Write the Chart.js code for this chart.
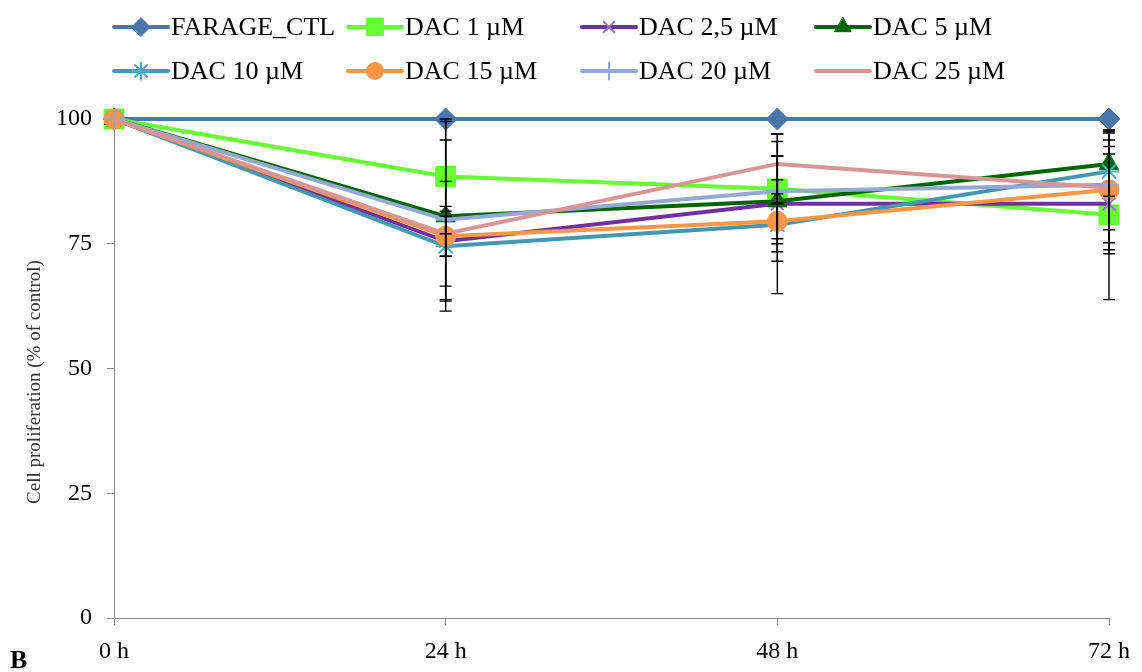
<!DOCTYPE html>
<html>
<head>
<meta charset="utf-8">
<script src="https://cdn.jsdelivr.net/npm/chart.js@4/dist/chart.umd.min.js"></script>
<style>
  body { margin: 0; background: #fff; }
  #wrap { width: 1142px; height: 672px; }
</style>
</head>
<body>
<div id="wrap"><canvas id="my-chart" width="1142" height="672"></canvas></div>
<script>
// time points
var hours = ['0 h', '24 h', '48 h', '72 h'];
var seriesNames = ['FARAGE_CTL', 'DAC 1 \u00b5M', 'DAC 2,5 \u00b5M', 'DAC 5 \u00b5M',
                   'DAC 10 \u00b5M', 'DAC 15 \u00b5M', 'DAC 20 \u00b5M', 'DAC 25 \u00b5M'];

// cell proliferation (% of control)
var farageCtl = [100, 100, 100, 100];
var dac1  = [100, 88.5, 86, 80.8];
var dac25 = [100, 75.5, 83, 83];
var dac5  = [100, 80.5, 83.5, 91];
var dac10 = [100, 74.5, 78.8, 89.5];
var dac15 = [100, 76.5, 79.5, 85.8];
var dac20 = [100, 79.8, 85.5, 86.8];
var dac25b = [100, 77, 91, 86.2];

// error (+/-)
var farageCtlErr = [0, 0, 0, 0];
var dac1Err  = [0, 11.5, 11, 17];
var dac25Err = [0, 12, 9.6, 10];
var dac5Err  = [0, 19, 12, 6.5];
var dac10Err = [0, 8, 13.8, 5];
var dac15Err = [0, 4, 3.5, 12];
var dac20Err = [0, 16, 2.3, 9];
var dac25bErr = [0, 4.5, 6, 11];

var yTicks = [0, 25, 50, 75, 100];

var values = [farageCtl, dac1, dac25, dac5, dac10, dac15, dac20, dac25b];
var errors = [farageCtlErr, dac1Err, dac25Err, dac5Err, dac10Err, dac15Err, dac20Err, dac25bErr];
var lineColors = ['#4A76AC', '#66FF33', '#7030A0', '#006400', '#4198AF', '#F79646', '#93A9D2', '#D89594'];
var markColors = ['#4A76AC', '#66FF33', '#9A6FCC', '#006400', '#4BACC6', '#F79646', '#93A9D2', '#D89594'];
var markers = ['rectRot', 'rect', 'crossRot', 'triangle', 'star', 'circle', 'cross', false];
var markSize = [11, 14, 9, 11, 10, 10, 10, 0];

var datasets = values.map(function (v, i) {
    return {
        label: seriesNames[i],
        data: v,
        errors: errors[i],
        borderColor: lineColors[i],
        backgroundColor: lineColors[i],
        borderWidth: 4,
        pointStyle: markers[i],
        pointRadius: markSize[i],
        pointHoverRadius: markSize[i],
        pointBackgroundColor: markColors[i],
        pointBorderColor: markColors[i],
        pointBorderWidth: (markers[i] == 'crossRot' || markers[i] == 'star' || markers[i] == 'cross') ? 2 : 1,
        tension: 0,
        clip: false,
        order: -i
    };
});

var errorBars = {
    id: 'errorBars',
    afterDatasetsDraw: function (chart) {
        var ctx = chart.ctx;
        var y = chart.scales.y;
        ctx.save();
        ctx.strokeStyle = '#000';
        ctx.lineWidth = 1.4;
        chart.data.datasets.forEach(function (ds, di) {
            var meta = chart.getDatasetMeta(di);
            ds.data.forEach(function (val, i) {
                var e = ds.errors[i];
                if (!e) return;
                var x = meta.data[i].x;
                var top = y.getPixelForValue(val + e);
                var bot = y.getPixelForValue(val - e);
                ctx.beginPath();
                ctx.moveTo(x, top); ctx.lineTo(x, bot);
                ctx.moveTo(x - 6, top); ctx.lineTo(x + 6, top);
                ctx.moveTo(x - 6, bot); ctx.lineTo(x + 6, bot);
                ctx.stroke();
            });
        });
        ctx.restore();
    }
};

var extras = {
    id: 'extras',
    afterDraw: function (chart) {
        var ctx = chart.ctx;
        ctx.save();
        // legend, 4 columns x 2 rows
        ctx.font = '26px "Liberation Serif"';
        ctx.textBaseline = 'middle';
        ctx.fillStyle = '#000';
        chart.data.datasets.forEach(function (ds, i) {
            var col = i % 4, row = Math.floor(i / 4);
            var x = 114 + col * 234;
            var yy = 27 + row * 44;
            ctx.strokeStyle = ds.borderColor;
            ctx.lineWidth = 4;
            ctx.lineCap = 'round';
            ctx.beginPath(); ctx.moveTo(x, yy); ctx.lineTo(x + 54, yy); ctx.stroke();
            if (ds.pointStyle && Chart.helpers && Chart.helpers.drawPoint) {
                ctx.fillStyle = ds.pointBackgroundColor;
                ctx.strokeStyle = ds.pointBorderColor;
                ctx.lineWidth = ds.pointBorderWidth;
                Chart.helpers.drawPoint(ctx, {
                    pointStyle: ds.pointStyle, rotation: 0,
                    radius: ds.pointRadius * 0.85, borderWidth: ds.pointBorderWidth
                }, x + 27, yy);
            }
            ctx.fillStyle = '#000';
            ctx.fillText(ds.label, x + 57, yy + 1);
        });
        // y axis title
        ctx.save();
        ctx.translate(35, 382);
        ctx.rotate(-Math.PI / 2);
        ctx.font = '19px "Liberation Serif"';
        ctx.textAlign = 'center';
        ctx.fillStyle = '#333';
        ctx.fillText('Cell proliferation (% of control)', 0, 0);
        ctx.restore();
        // panel letter
        ctx.font = 'bold 26px "Liberation Serif"';
        ctx.textBaseline = 'alphabetic';
        ctx.fillStyle = '#000';
        ctx.fillText('B', 10, 668);
        ctx.restore();
    }
};

var ctx = document.getElementById('my-chart').getContext('2d');

var myChart = new Chart(ctx, {
    type: 'line',
    data: {
        labels: hours,
        datasets: datasets
    },
    plugins: [errorBars, extras],
    options: {
        responsive: false,
        animation: false,
        devicePixelRatio: 1,
        layout: { padding: { top: 119, right: 30, left: 0, bottom: 0 } },
        plugins: {
            legend: { display: false },
            tooltip: { enabled: false }
        },
        scales: {
            x: {
                offset: false,
                grid: { drawOnChartArea: false, drawTicks: true, tickLength: 7, color: '#888' },
                border: { color: '#888', width: 1 },
                ticks: { color: '#000', padding: 12, font: { family: 'Liberation Serif', size: 24 } },
                afterFit: function (s) { s.height = 54; }
            },
            y: {
                min: 0,
                max: 100,
                afterBuildTicks: function (s) { s.ticks = yTicks.map(function (v) { return { value: v }; }); },
                grid: { drawOnChartArea: false, drawTicks: true, tickLength: 7, color: '#888' },
                border: { color: '#888', width: 1 },
                ticks: { color: '#000', padding: 15, font: { family: 'Liberation Serif', size: 24 } },
                afterFit: function (s) { s.width = 114; }
            }
        }
    }
});
</script>
</body>
</html>
